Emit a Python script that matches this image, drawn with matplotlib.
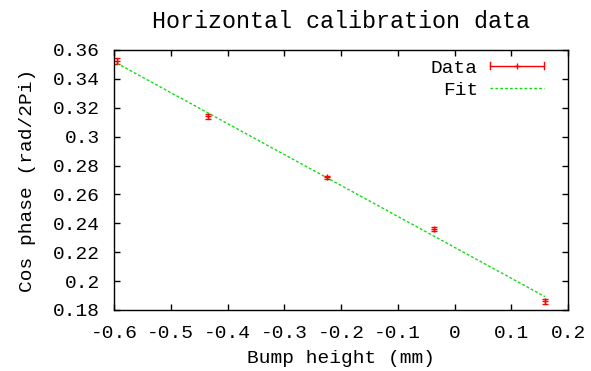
import numpy as np
import matplotlib
matplotlib.use("Agg")
import matplotlib.pyplot as plt
from matplotlib.ticker import FixedLocator
from matplotlib.lines import Line2D
from matplotlib.legend_handler import HandlerBase
from matplotlib.container import ErrorbarContainer

# data
bump_height = [-0.595, -0.435, -0.225, -0.036, 0.1595]
cos_phase = [0.3522, 0.3140, 0.2718, 0.2362, 0.1862]
phase_err = [0.0022, 0.0018, 0.0008, 0.0014, 0.0017]

# fitted line
fit_slope = -0.2142
fit_intercept = 0.2234

xticks = [-0.6, -0.5, -0.4, -0.3, -0.2, -0.1, 0, 0.1, 0.2]
yticks = [0.18, 0.2, 0.22, 0.24, 0.26, 0.28, 0.3, 0.32, 0.34, 0.36]

RED = '#ff0000'
GREEN = '#11dd11'

plt.rcParams['font.family'] = ['Liberation Mono', 'DejaVu Sans Mono']
plt.rcParams['font.size'] = 14


class HErrHandler(HandlerBase):
    # gnuplot style key sample: horizontal bar with end caps and a '+' in the middle
    def create_artists(self, legend, orig_handle, xdescent, ydescent,
                       width, height, fontsize, trans):
        y = height / 2 - ydescent
        x0, x1 = -xdescent, width - xdescent
        c = 2.5
        bar = Line2D([x0, x1], [y, y], color=RED, lw=1, transform=trans)
        caps = Line2D([x0, x0, np.nan, x1, x1], [y - c, y + c, np.nan, y - c, y + c],
                      color=RED, lw=1, transform=trans)
        mid = Line2D([(x0 + x1) / 2], [y], marker='+', ms=5, mew=1, color=RED,
                     transform=trans)
        return [bar, caps, mid]


fig = plt.figure(figsize=(5.91, 3.71), dpi=100)
ax = fig.add_axes([114 / 591, 1 - 310 / 371, 454 / 591, 260 / 371])

eb = ax.errorbar(bump_height, cos_phase, yerr=phase_err, fmt='+', color=RED,
                 ms=4, mew=1, elinewidth=1, capsize=2.2, capthick=1)

xf = np.array([min(bump_height), max(bump_height)])
fit_line, = ax.plot(xf, fit_slope * xf + fit_intercept, color=GREEN, lw=1,
                    ls=(0, (2, 1.5)))

ax.set_xlim(-0.6, 0.2)
ax.set_ylim(0.18, 0.36)
ax.xaxis.set_major_locator(FixedLocator(xticks))
ax.yaxis.set_major_locator(FixedLocator(yticks))
ax.set_xticklabels([f"{t:g}" for t in xticks])
ax.set_yticklabels([f"{t:g}" for t in yticks])
ax.tick_params(direction='in', top=True, right=True, length=4.5, width=1)
ax.tick_params(axis='x', pad=10.5)
ax.tick_params(axis='y', pad=10)
for s in ax.spines.values():
    s.set_linewidth(1)

ax.set_title("Horizontal calibration data", pad=16)
ax.set_xlabel("Bump height (mm)", labelpad=6)
ax.set_ylabel("Cos phase (rad/2Pi)", labelpad=12)

ax.legend([eb, fit_line], ['Data', 'Fit'], loc='upper right',
          bbox_to_anchor=(430 / 454, 1 - 9 / 260), frameon=False,
          markerfirst=False, handlelength=2.8, handletextpad=0.6,
          borderpad=0, borderaxespad=0, labelspacing=0.25,
          handler_map={ErrorbarContainer: HErrHandler()})

fig.savefig("out.png", dpi=100)
